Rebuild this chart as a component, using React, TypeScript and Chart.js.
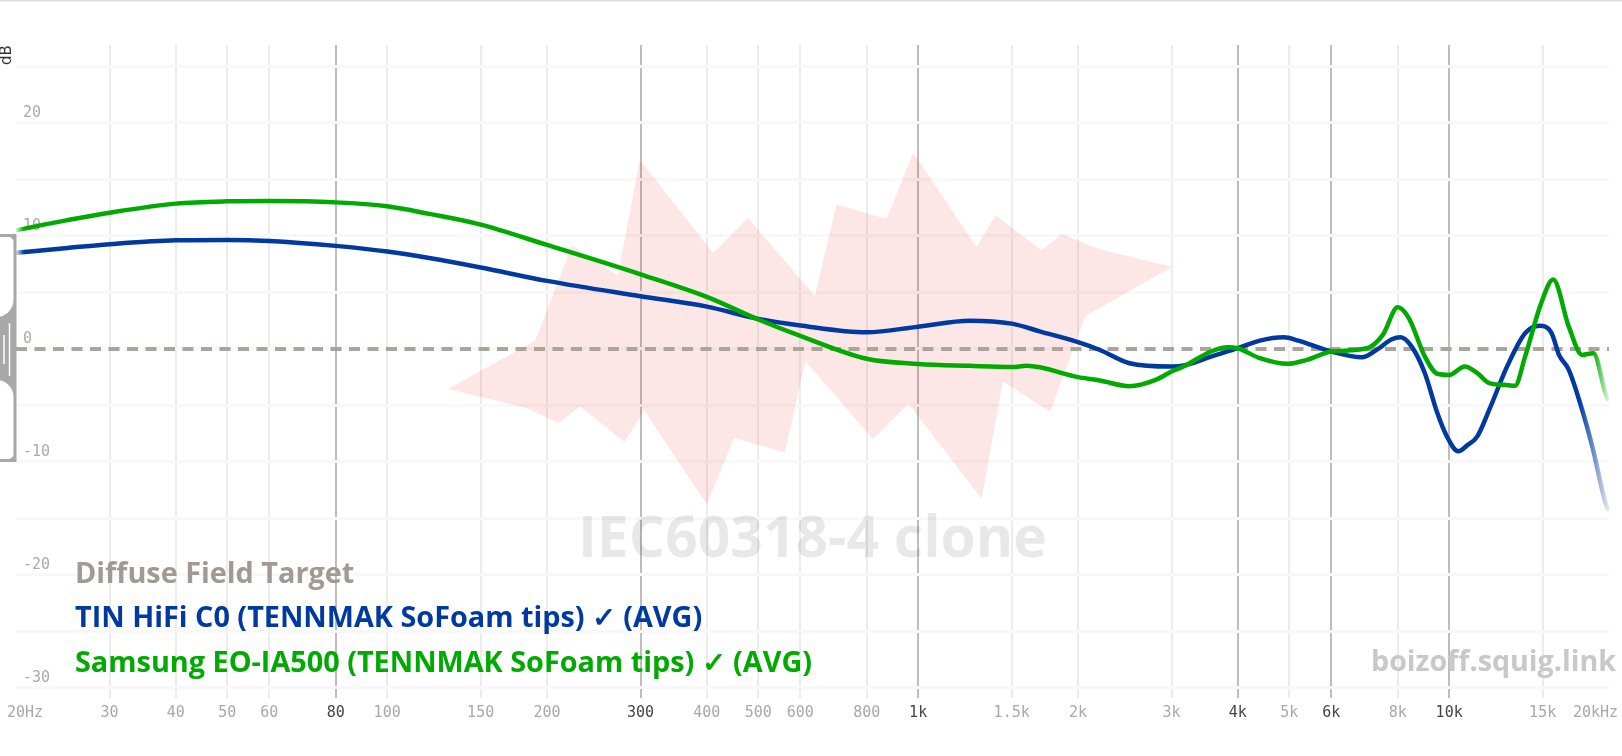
import { useEffect, useRef } from "react"
import { Chart, registerables } from "chart.js"

Chart.register(...registerables)

// x axis ticks (Hz)
const FREQ_TICKS = [20, 30, 40, 50, 60, 80, 100, 150, 200, 300, 400, 500, 600, 800, 1000, 1500, 2000, 3000, 4000, 5000, 6000, 8000, 10000, 15000, 20000]
const FREQ_LABELS = ["  20Hz", "30", "40", "50", "60", "80", "100", "150", "200", "300", "400", "500", "600", "800", "1k", "1.5k", "2k", "3k", "4k", "5k", "6k", "8k", "10k", "15k", "20kHz   "]
const MAJOR_TICKS = [80, 300, 1000, 4000, 6000, 10000]
const DB_TICKS = [-30, -25, -20, -15, -10, -5, 0, 5, 10, 15, 20, 25]

// TIN HiFi C0
const TIN_FREQ = [20, 25, 30, 40, 50, 60, 80, 100, 120, 150, 200, 300, 400, 500, 600, 800, 1000, 1250, 1500, 1700, 2000, 2200, 2500, 3000, 3200, 3560, 4000, 4400, 4880, 5200, 5500, 6000, 6850, 7300, 7800, 8100, 8500, 9000, 9500, 9900, 10400, 10800, 11300, 11900, 12900, 13900, 14800, 15600, 16100, 16800, 17800, 18600, 19700, 20000]
const TIN_DB = [8.5, 8.94, 9.27, 9.62, 9.65, 9.56, 9.12, 8.62, 8.05, 7.21, 6.02, 4.66, 3.74, 2.66, 2.08, 1.47, 1.97, 2.5, 2.24, 1.53, 0.6, -0.1, -1.27, -1.56, -1.41, -0.68, 0.06, 0.73, 1.03, 0.73, 0.35, -0.23, -0.74, -0.09, 0.85, 1.03, 0.2, -2.15, -5.68, -7.74, -9.06, -8.56, -7.74, -5.38, -1.41, 1.38, 2.05, 1.38, -0.53, -1.85, -5.38, -8.62, -13.6, -14.3]

// Samsung EO-IA500
const SAMSUNG_FREQ = [20, 25, 30, 40, 50, 60, 80, 100, 120, 150, 200, 300, 400, 500, 600, 800, 1000, 1250, 1500, 1600, 2000, 2200, 2500, 2800, 3000, 3160, 3560, 3830, 4000, 4400, 4970, 5400, 6000, 7000, 7500, 8000, 8400, 9000, 9500, 10000, 10700, 11300, 11900, 12700, 13300, 13900, 14900, 15700, 16800, 17800, 18700, 19700, 20000]
const SAMSUNG_DB = [10.5, 11.4, 12.06, 12.86, 13.06, 13.09, 12.97, 12.62, 11.95, 11.0, 9.2, 6.6, 4.6, 2.6, 1.15, -0.87, -1.33, -1.5, -1.6, -1.5, -2.5, -2.8, -3.3, -2.74, -2.0, -1.56, -0.23, 0.15, 0.06, -0.82, -1.32, -0.97, -0.23, 0.06, 1.24, 3.68, 2.71, -0.68, -2.2, -2.3, -1.56, -2.15, -3.03, -3.18, -3.27, -0.68, 4.03, 6.15, 1.97, -0.53, -0.38, -3.91, -4.6]

// Diffuse field target (flat)
const TARGET_FREQ = [20, 20000]
const TARGET_DB = [0, 0]

// IEC60318-4 clone outline (closed shape)
const IEC_FREQ = [130, 190, 223, 272, 299, 411, 478, 639, 702, 872, 979, 1287, 1400, 1705, 1866, 2177, 3008, 2066, 1772, 1444, 1317, 959, 822, 613, 561, 450, 400, 305, 280, 231, 210, 183, 130]
const IEC_DB = [-3.56, 0.73, 9.18, 6.47, 16.74, 8.5, 11.59, 4.7, 12.8, 11.5, 17.36, 9.03, 11.83, 8.74, 10.18, 8.89, 7.24, 2.91, -5.56, -2.88, -13.27, -4.85, -7.97, -1.06, -9.15, -7.91, -13.77, -5.44, -8.24, -5.09, -6.56, -5.24, -3.56]

const LABELS = ["Diffuse Field Target", "TIN HiFi C0 (TENNMAK SoFoam tips) \u2713 (AVG)", "Samsung EO-IA500 (TENNMAK SoFoam tips) \u2713 (AVG)"]
const IEC_LABEL = "IEC60318-4 clone"
const SITE_LABEL = "boizoff.squig.link"

const BLUE = [0, 58, 160]
const GREEN = [0, 170, 0]
const TARGET_GRAY = "#aaa49b"
const LEGEND_COLORS = ["#a19a92", rgba(BLUE, 1), rgba(GREEN, 1)]

function rgba(c: number[], a: number) {
  return `rgba(${c[0]},${c[1]},${c[2]},${a})`
}

function points(freq: number[], db: number[]) {
  return freq.map((f, i) => ({ x: f, y: db[i] }))
}

// line colour that fades out at the ends of the plot
function fadedStroke(c: number[], leftFade: number, rightFade: number) {
  return (ctx: any) => {
    const chart = ctx.chart
    const area = chart.chartArea
    if (!area) return rgba(c, 1)
    const w = area.right - area.left
    const g = chart.ctx.createLinearGradient(area.left, 0, area.right, 0)
    g.addColorStop(0, rgba(c, 0.15))
    g.addColorStop(leftFade / w, rgba(c, 1))
    g.addColorStop(1 - rightFade / w, rgba(c, 1))
    g.addColorStop(1, rgba(c, 0.1))
    return g
  }
}

function condensedText(ctx: CanvasRenderingContext2D, text: string, x: number, y: number, scale: number, align: "left" | "center" | "right") {
  const w = ctx.measureText(text).width * scale
  let left = x
  if (align === "center") left = x - w / 2
  if (align === "right") left = x - w
  ctx.save()
  ctx.translate(left, y)
  ctx.scale(scale, 1)
  ctx.textAlign = "left"
  ctx.fillText(text, 0, 0)
  ctx.restore()
}

const decorations = {
  id: "decorations",
  beforeDatasetsDraw(chart: any) {
    const { ctx, chartArea } = chart
    ctx.save()
    ctx.textBaseline = "alphabetic"
    ctx.fillStyle = "rgba(0,0,0,0.09)"
    ctx.font = "700 57px 'Open Sans'"
    const iecScale = 469 / ctx.measureText(IEC_LABEL).width
    condensedText(ctx, IEC_LABEL, (chartArea.left + chartArea.right) / 2, chartArea.bottom - 141, iecScale, "center")
    ctx.fillStyle = "#c8c8c8"
    ctx.font = "700 28px 'Open Sans'"
    const siteScale = 245 / ctx.measureText(SITE_LABEL).width
    condensedText(ctx, SITE_LABEL, chartArea.right + 7, chartArea.bottom - 27, siteScale, "right")
    ctx.restore()
  },
  afterDraw(chart: any) {
    const { ctx, chartArea } = chart
    ctx.save()
    // top border
    ctx.fillStyle = "#dedede"
    ctx.fillRect(0, 0, chart.width, 1.5)

    // legend
    ctx.font = "700 28px 'Open Sans'"
    ctx.textBaseline = "alphabetic"
    const legendScale = 737 / ctx.measureText(LABELS[2]).width
    LABELS.forEach((label, i) => {
      ctx.fillStyle = LEGEND_COLORS[i]
      condensedText(ctx, label, chartArea.left + 59, chartArea.bottom - 115.5 + i * 44.5, legendScale, "left")
    })

    // dB axis title
    ctx.fillStyle = "#333"
    ctx.font = "15px 'DejaVu Sans'"
    ctx.translate(7.5, 55)
    ctx.rotate(-Math.PI / 2)
    ctx.textAlign = "center"
    ctx.textBaseline = "middle"
    ctx.fillText("dB", 0, 0)
    ctx.restore()

    // scroll handle on the left edge
    ctx.save()
    ctx.fillStyle = "#a8a8a8"
    ctx.fillRect(0, 234, 16.5, 228)
    ctx.fillStyle = "#fff"
    ctx.beginPath()
    ctx.roundRect(-10, 237, 23.5, 80, [0, 5, 17, 0])
    ctx.fill()
    ctx.beginPath()
    ctx.roundRect(-10, 380, 23.5, 79, [0, 17, 5, 0])
    ctx.fill()
    ctx.strokeStyle = "#fff"
    ctx.lineWidth = 1.5
    ctx.beginPath()
    ctx.moveTo(4, 335)
    ctx.lineTo(4, 364)
    ctx.moveTo(9.5, 323)
    ctx.lineTo(9.5, 376)
    ctx.stroke()
    ctx.restore()
  },
}

export default function App() {
  const canvasRef = useRef<HTMLCanvasElement | null>(null)

  useEffect(() => {
    if (!canvasRef.current) return
    const chart = new Chart(canvasRef.current, {
      type: "line",
      data: {
        datasets: [
          {
            label: LABELS[0],
            data: points(TARGET_FREQ, TARGET_DB),
            borderColor: TARGET_GRAY,
            borderWidth: 4,
            borderDash: [11, 7.5],
            pointRadius: 0,
            order: 3,
          },
          {
            label: LABELS[1],
            data: points(TIN_FREQ, TIN_DB),
            borderColor: fadedStroke(BLUE, 8, 30),
            borderWidth: 4.5,
            pointRadius: 0,
            cubicInterpolationMode: "monotone",
            order: 2,
          },
          {
            label: LABELS[2],
            data: points(SAMSUNG_FREQ, SAMSUNG_DB),
            borderColor: fadedStroke(GREEN, 8, 16),
            borderWidth: 4.5,
            pointRadius: 0,
            cubicInterpolationMode: "monotone",
            order: 1,
          },
          {
            label: IEC_LABEL,
            data: points(IEC_FREQ, IEC_DB),
            borderWidth: 0,
            borderColor: "rgba(0,0,0,0)",
            backgroundColor: "rgba(230,40,30,0.11)",
            fill: "shape",
            pointRadius: 0,
            tension: 0,
            order: 4,
          },
        ],
      },
      options: {
        animation: false,
        responsive: true,
        maintainAspectRatio: false,
        layout: { padding: { top: 45, right: 13, left: 0, bottom: 0 } },
        plugins: {
          legend: { display: false },
          tooltip: { enabled: false },
        },
        scales: {
          x: {
            type: "logarithmic",
            min: 20,
            max: 20000,
            afterBuildTicks: (s: any) => {
              s.ticks = FREQ_TICKS.map((v) => ({ value: v }))
            },
            afterFit: (s: any) => {
              s.height = 58
              s.paddingLeft = 0
              s.paddingRight = 0
            },
            border: { display: false },
            grid: {
              drawTicks: false,
              lineWidth: 2,
              color: (c: any) => {
                const v = c.tick?.value
                if (v === 20 || v === 20000) return "rgba(0,0,0,0)"
                return MAJOR_TICKS.includes(v) ? "#bdbdbd" : "#ececec"
              },
            },
            ticks: {
              autoSkip: false,
              maxRotation: 0,
              padding: 6,
              font: { family: "'DejaVu Sans Mono'", size: 15 },
              color: (c: any) => (MAJOR_TICKS.includes(c.tick?.value) ? "#444" : "#a8a8a8"),
              callback: (_v: any, i: number) => FREQ_LABELS[i],
            },
          },
          y: {
            min: -30.9,
            max: 26.9,
            afterBuildTicks: (s: any) => {
              s.ticks = DB_TICKS.map((v) => ({ value: v }))
            },
            afterFit: (s: any) => {
              s.width = 16
            },
            border: { display: false },
            grid: { drawTicks: false, lineWidth: 3, color: "#f8f8f8" },
            ticks: {
              mirror: true,
              padding: 7,
              labelOffset: -10,
              color: "#aaa",
              font: { family: "'DejaVu Sans Mono'", size: 15 },
              callback: (v: any) => (Number(v) % 10 === 0 ? String(v) : ""),
            },
          },
        },
      },
      plugins: [decorations],
    })
    return () => chart.destroy()
  }, [])

  return (
    <div style={{ position: "fixed", left: 0, top: 0, width: 1622, height: 756, background: "#fff" }}>
      <canvas ref={canvasRef} />
    </div>
  )
}
